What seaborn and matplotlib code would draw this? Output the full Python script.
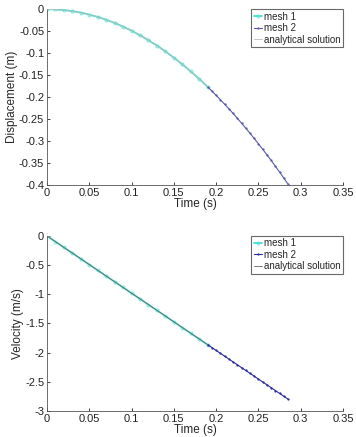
import matplotlib
matplotlib.use("Agg")
import matplotlib.pyplot as plt
import seaborn as sns
import pandas as pd
from matplotlib.ticker import FuncFormatter, MultipleLocator

# ---- data ----
t_mesh1 = [0.00, 0.01, 0.02, 0.03, 0.04, 0.05, 0.06, 0.07, 0.08, 0.09,
           0.10, 0.11, 0.12, 0.13, 0.14, 0.15, 0.16, 0.17, 0.18, 0.19]
disp_mesh1 = [0.0, -0.0005, -0.002, -0.0044, -0.0078, -0.0123, -0.0177, -0.024, -0.0314, -0.0397,
              -0.049, -0.0594, -0.0706, -0.0829, -0.0961, -0.1104, -0.1256, -0.1418, -0.1589, -0.1771]
vel_mesh1 = [0.0, -0.098, -0.196, -0.294, -0.392, -0.49, -0.589, -0.687, -0.785, -0.883,
             -0.981, -1.079, -1.177, -1.275, -1.373, -1.472, -1.57, -1.668, -1.766, -1.864]

t_mesh2 = [0.190, 0.195, 0.200, 0.205, 0.210, 0.215, 0.220, 0.225, 0.230, 0.235,
           0.240, 0.245, 0.250, 0.255, 0.260, 0.265, 0.270, 0.275, 0.280, 0.285]
disp_mesh2 = [-0.1771, -0.1865, -0.1962, -0.2061, -0.2163, -0.2267, -0.2374, -0.2483, -0.2595, -0.2709,
              -0.2825, -0.2944, -0.3066, -0.3189, -0.3316, -0.3444, -0.3576, -0.3709, -0.3846, -0.3984]
vel_mesh2 = [-1.864, -1.913, -1.962, -2.011, -2.06, -2.109, -2.158, -2.207, -2.256, -2.305,
             -2.354, -2.403, -2.453, -2.502, -2.551, -2.6, -2.649, -2.698, -2.747, -2.796]

t_exact = [0.0, 0.02, 0.04, 0.06, 0.08, 0.10, 0.12, 0.14, 0.16, 0.18, 0.19]
disp_exact = [0.0, -0.002, -0.0078, -0.0177, -0.0314, -0.049, -0.0706, -0.0961, -0.1256, -0.1589, -0.1771]
vel_exact = [0.0, -0.196, -0.392, -0.589, -0.785, -0.981, -1.177, -1.373, -1.57, -1.766, -1.864]

xticks = [0, 0.05, 0.1, 0.15, 0.2, 0.25, 0.3, 0.35]

sns.set_style("ticks")
plt.rcParams['font.family'] = ['Liberation Sans', 'DejaVu Sans']
plt.rcParams['axes.unicode_minus'] = False
plt.rcParams['xtick.direction'] = 'in'
plt.rcParams['ytick.direction'] = 'in'

fig = plt.figure(figsize=(3.56, 4.37), dpi=100)
ax1 = fig.add_axes([0.132, 0.577, 0.8315, 0.402])
ax2 = fig.add_axes([0.132, 0.0595, 0.8315, 0.4005])

fmt = FuncFormatter(lambda v, p: ('%g' % round(v, 4)))

def draw(ax, y1, y2, ye, ylabel, ylim, ystep, c2, c1line):
    sns.lineplot(x=t_mesh1, y=y1, ax=ax, color='#48e0d4', marker='o', markersize=2.2,
                 markeredgewidth=0.5, markerfacecolor='none', markeredgecolor='#48e0d4',
                 linewidth=1.3, label='mesh 1', zorder=2)
    sns.lineplot(x=t_mesh2, y=y2, ax=ax, color=c2, marker='o', markersize=1.6,
                 markeredgewidth=0, linewidth=0.8, label='mesh 2', zorder=3)
    sns.lineplot(x=t_exact, y=ye, ax=ax, color=c1line, linewidth=0.6,
                 label='analytical solution', zorder=4)
    ax.set_xlim(0, 0.35)
    ax.set_ylim(*ylim)
    ax.set_xticks(xticks)
    ax.yaxis.set_major_locator(MultipleLocator(ystep))
    ax.xaxis.set_major_formatter(fmt)
    ax.yaxis.set_major_formatter(fmt)
    ax.tick_params(labelsize=8, length=2.5, width=0.6, colors='#222222', pad=2)
    for s in ['top', 'right']:
        ax.spines[s].set_visible(False)
    for s in ['left', 'bottom']:
        ax.spines[s].set_linewidth(0.6)
        ax.spines[s].set_color('#555555')
    ax.set_xlabel('Time (s)', fontsize=8.5, labelpad=0)
    ax.set_ylabel(ylabel, fontsize=8.5, labelpad=1)
    leg = ax.legend(loc='upper right', fontsize=7, frameon=True, fancybox=False,
                    handlelength=0.9, handletextpad=0.15, borderpad=0.25,
                    labelspacing=0.15, borderaxespad=0.0)
    leg.get_frame().set_edgecolor('#444444')
    leg.get_frame().set_linewidth(0.8)

draw(ax1, disp_mesh1, disp_mesh2, disp_exact, 'Displacement (m)', (-0.4, 0), 0.05,
     '#5a5aa8', '#bbbbbb')
draw(ax2, vel_mesh1, vel_mesh2, vel_exact, 'Velocity (m/s)', (-3, 0), 0.5,
     '#2a2a9a', '#666666')

fig.savefig('out.png', dpi=100)
